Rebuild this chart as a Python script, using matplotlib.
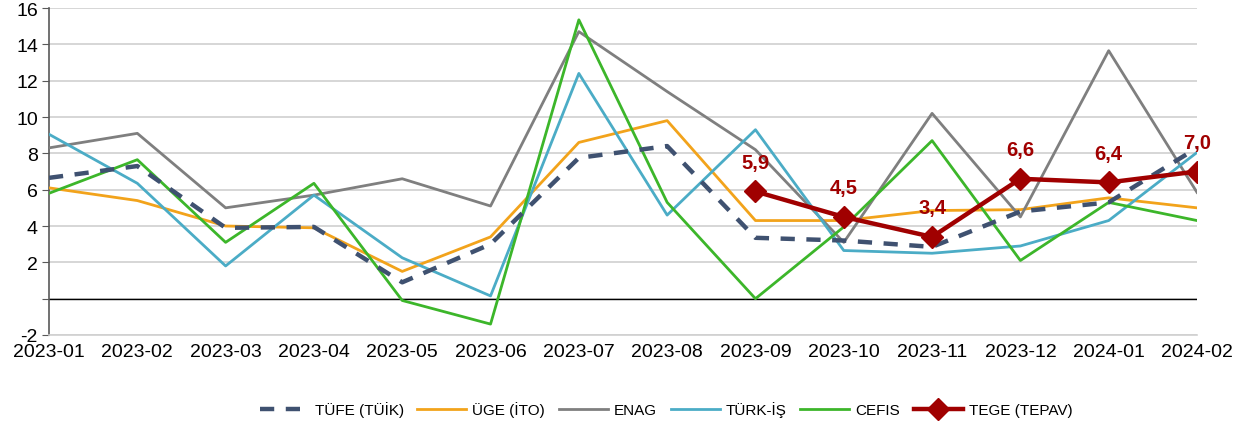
import matplotlib
matplotlib.use("Agg")
import matplotlib.pyplot as plt
import numpy as np

months = ["2023-01", "2023-02", "2023-03", "2023-04", "2023-05", "2023-06", "2023-07",
          "2023-08", "2023-09", "2023-10", "2023-11", "2023-12", "2024-01", "2024-02"]
tufe = [6.65, 7.3, 3.9, 3.95, 0.9, 3.0, 7.75, 8.4, 3.35, 3.2, 2.85, 4.8, 5.3, 8.3]
uge = [6.1, 5.4, 4.0, 3.9, 1.5, 3.4, 8.6, 9.8, 4.3, 4.3, 4.85, 4.9, 5.55, 5.0]
enag = [8.3, 9.1, 5.0, 5.7, 6.6, 5.1, 14.7, 11.4, 8.2, 3.1, 10.2, 4.5, 13.65, 5.85]
turkis = [9.05, 6.35, 1.8, 5.7, 2.25, 0.15, 12.4, 4.6, 9.3, 2.65, 2.5, 2.9, 4.3, 8.05]
cefis = [5.8, 7.65, 3.1, 6.35, -0.1, -1.4, 15.35, 5.3, 0.0, 3.95, 8.7, 2.1, 5.3, 4.3]
tege_months = ["2023-09", "2023-10", "2023-11", "2023-12", "2024-01", "2024-02"]
tege = [5.9, 4.5, 3.4, 6.6, 6.4, 7.0]
yticks = [-2, 0, 2, 4, 6, 8, 10, 12, 14, 16]
ytick_labels = ["-2", "", "2", "4", "6", "8", "10", "12", "14", "16"]

plt.rcParams['font.family'] = ['Liberation Sans', 'DejaVu Sans']

fig = plt.figure(figsize=(12.39, 4.27), dpi=100)
ax = fig.add_axes([49/1239, 1-336/427, (1197-49)/1239, (336-9)/427])

x = np.arange(len(months))
xt = [months.index(m) for m in tege_months]

ax.plot(x, uge, color="#F2A31B", lw=2.0, label="ÜGE (İTO)", zorder=3)
ax.plot(x, enag, color="#7F7F7F", lw=2.0, label="ENAG", zorder=3)
ax.plot(x, turkis, color="#4BACC6", lw=2.0, label="TÜRK-İŞ", zorder=3)
ax.plot(x, cefis, color="#3CB62A", lw=2.0, label="CEFIS", zorder=3)
ax.plot(x, tufe, color="#3F5170", lw=3.2, dashes=(3.2, 2.6), label="TÜFE (TÜİK)", zorder=4)
ax.plot(xt, tege, color="#A00000", lw=3.2, marker="D", ms=11, label="TEGE (TEPAV)", zorder=5)

for xi, v in zip(xt, tege):
    ax.annotate(f"{v:.1f}".replace(".", ","), (xi, v), xytext=(0, 21), textcoords="offset points",
                ha="center", va="center", fontsize=14.5, fontweight="bold", color="#A00000", zorder=6)

ax.axhline(0, color="black", lw=1.0, zorder=2)
ax.set_xlim(0, len(months) - 1)
ax.set_ylim(-2, 16)
ax.set_yticks(yticks)
ax.set_yticklabels(ytick_labels, fontsize=14)
ax.set_xticks(x)
ax.set_xticklabels(months, fontsize=14)
ax.tick_params(axis="x", length=0, pad=6)
ax.tick_params(axis="y", length=5, color="#595959", pad=3)
ax.grid(axis="y", color="#D0D0D0", lw=1.2, zorder=0)
for s in ["top", "right"]:
    ax.spines[s].set_visible(False)
ax.spines["bottom"].set_color("#D0D0D0")
ax.spines["bottom"].set_linewidth(1.2)
ax.spines["left"].set_color("#595959")
ax.spines["left"].set_linewidth(1.2)

handles, labels = ax.get_legend_handles_labels()
order = ["TÜFE (TÜİK)", "ÜGE (İTO)", "ENAG", "TÜRK-İŞ", "CEFIS", "TEGE (TEPAV)"]
hmap = dict(zip(labels, handles))
fig.legend([hmap[o] for o in order], order, loc="center", bbox_to_anchor=(666/1239, 1-410/427),
           ncol=6, frameon=False, fontsize=11, handlelength=3.2, columnspacing=0.9, handletextpad=0.4)

fig.savefig("out.png", dpi=100)
